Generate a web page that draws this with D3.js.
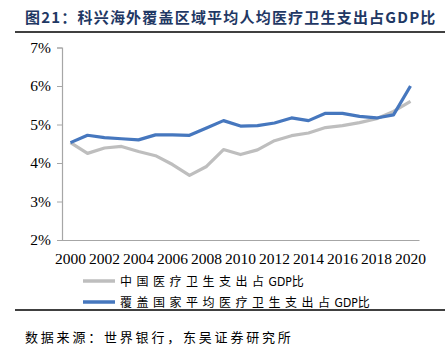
<!DOCTYPE html>
<html><head><meta charset="utf-8">
<script src="https://cdn.jsdelivr.net/npm/d3@7"></script>
<style>body{margin:0;background:#fff}svg{display:block}</style>
</head><body>
<script>
const years = d3.range(2000, 2021).map(String);
const yTicks = [2,3,4,5,6,7];
const xTickLabels = years.filter((d,i)=>i%2===0);
const seriesNames = ["中国医疗卫生支出占","覆盖国家平均医疗卫生支出占"];
const seriesSuffix = "GDP比";
const chinaValues = [4.53,4.25,4.39,4.43,4.30,4.19,3.96,3.68,3.91,4.35,4.22,4.34,4.58,4.71,4.78,4.92,4.97,5.05,5.15,5.34,5.60];
const coveredValues = [4.53,4.72,4.66,4.63,4.60,4.73,4.73,4.72,4.91,5.10,4.96,4.97,5.04,5.17,5.10,5.29,5.29,5.21,5.17,5.25,6.00];
const colors = ["#BEBEBE","#4677BE"];
const titleText = "图21：科兴海外覆盖区域平均人均医疗卫生支出占GDP比";
const sourceText = "数据来源：世界银行，东吴证券研究所";

const W=447,H=346;
const svg=d3.select("body").append("svg").attr("width",W).attr("height",H);
const cjk='"Noto Sans CJK SC", sans-serif';
const serif='"Liberation Serif","Times New Roman",serif';

svg.append("text").attr("x",25).attr("y",23)
  .attr("font-family",cjk).attr("font-weight","bold").attr("font-size",15)
  .attr("letter-spacing","1.2px").attr("fill","#1F3864").text(titleText);
svg.append("line").attr("x1",15).attr("x2",445).attr("y1",32).attr("y2",32)
  .attr("stroke","#000").attr("stroke-width",1.6);

const x=d3.scaleBand().domain(years).range([62,419]);
const y=d3.scaleLinear().domain([2,7]).range([240,47.5]);

const gy=svg.append("g").attr("transform","translate(62,0)")
  .call(d3.axisLeft(y).tickValues(yTicks).tickSize(5).tickPadding(6).tickFormat(d=>d+"%"));
gy.select(".domain").attr("stroke","#A6A6A6").attr("stroke-width",1.2);
gy.selectAll(".tick line").attr("stroke","#A6A6A6");
gy.selectAll("text").attr("font-family",serif).attr("font-size",15.5).attr("fill","#000");

const gx=svg.append("g").attr("transform","translate(0,240)")
  .call(d3.axisBottom(x).tickValues(xTickLabels).tickSize(0).tickPadding(13).tickSizeOuter(0));
gx.select(".domain").attr("stroke","#A6A6A6").attr("stroke-width",1.2);
gx.selectAll("text").attr("font-family",serif).attr("font-size",15.5).attr("fill","#000");

const line=d3.line().x((d,i)=>x(years[i])+x.bandwidth()/2).y(d=>y(d));
[chinaValues,coveredValues].forEach((vals,k)=>{
  svg.append("path").datum(vals).attr("d",line).attr("fill","none")
    .attr("stroke",colors[k]).attr("stroke-width",3.2).attr("stroke-linejoin","round");
});

const legY=[281,302];
seriesNames.forEach((n,k)=>{
  svg.append("line").attr("x1",83).attr("x2",115).attr("y1",legY[k]).attr("y2",legY[k])
    .attr("stroke",colors[k]).attr("stroke-width",3.5);
  const t=svg.append("text").attr("x",120).attr("y",legY[k]+5).attr("font-family",cjk)
    .attr("font-size",12).attr("fill","#000");
  t.append("tspan").attr("letter-spacing","4.5px").text(n);
  t.append("tspan").attr("font-family",'"DejaVu Sans Condensed","Liberation Sans Narrow",sans-serif')
    .attr("font-size",12).text("GDP");
  t.append("tspan").text("比");
});

svg.append("line").attr("x1",15).attr("x2",445).attr("y1",310).attr("y2",310)
  .attr("stroke","#000").attr("stroke-width",1.6);
svg.append("text").attr("x",25).attr("y",342).attr("font-family",cjk)
  .attr("font-size",13).attr("letter-spacing","2.8px").attr("fill","#000").text(sourceText);
</script>
</body></html>
